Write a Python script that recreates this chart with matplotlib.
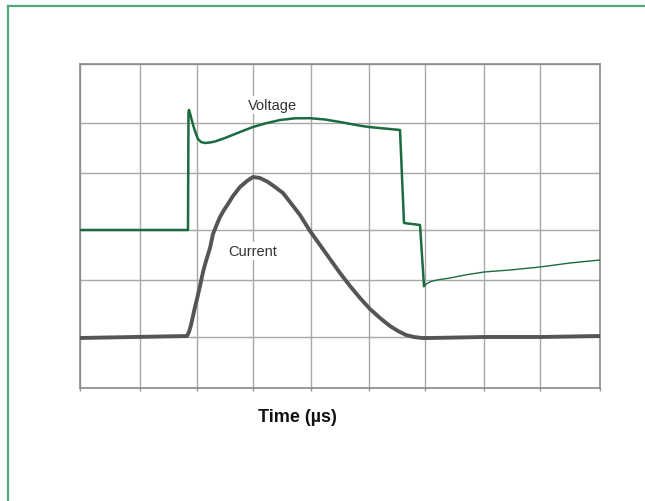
import matplotlib
matplotlib.use("Agg")
import matplotlib.pyplot as plt
from matplotlib.lines import Line2D

# trace values (x, y in screen divisions scaled to pixels)
grid_x = [0, 60, 117, 173, 231, 289, 345, 404, 460, 520]
grid_y = [0, 51, 108, 158, 215, 265, 324]

volt_t = [0, 108, 108.5, 109, 110.5, 112, 114, 116, 118, 121, 125, 130, 135, 145,
          160, 173, 185, 200, 215, 230, 245, 260, 280, 289, 320, 324, 340, 344]
volt_v = [158, 158, 276, 278, 273, 267, 260, 254, 249, 246, 245, 245.5, 246.5, 250,
          256, 261, 264.5, 268, 269.7, 269.8, 268.5, 266, 262.3, 261, 258, 165, 163, 102]
volt2_t = [344, 347, 351, 357, 370, 385, 404, 430, 460, 490, 520]
volt2_v = [102, 104.5, 106.5, 108, 110, 113, 116, 118, 121, 125, 128]

curr_t = [0, 107, 109, 111, 113, 115, 117, 120, 123, 126, 130, 133, 137, 140, 144,
          148, 153, 160, 167, 173, 180, 188, 195, 203, 210, 220, 230, 240, 250, 260,
          270, 280, 290, 300, 310, 318, 326, 334, 342, 350, 404, 460, 520]
curr_i = [50, 52, 56, 63, 72, 81, 89, 102, 116, 127, 140, 154, 164, 171, 178,
          184, 192, 201, 207, 211, 210, 206, 201, 195, 186, 173, 157, 143, 129, 115,
          102, 90, 79, 70, 62, 57, 53, 51, 50, 50, 51, 51, 52]

fig = plt.figure(figsize=(6.45, 5.02), dpi=100)
ax = fig.add_axes([80/645, 1 - 389/502, 520/645, 324/502])

ax.set_xlim(0, 520)
ax.set_ylim(0, 324)
ax.set_xticks(grid_x)
ax.set_yticks(grid_y)
ax.tick_params(axis="x", length=2.5, width=1, color="#999999", labelbottom=False)
ax.tick_params(axis="y", length=0, labelleft=False)
ax.grid(True, color="#a8a8a8", lw=1.0)
ax.set_axisbelow(True)
for s in ax.spines.values():
    s.set_color("#8a8a8a")
    s.set_linewidth(1.2)

ax.plot(curr_t, curr_i, color="#555555", lw=2.8, solid_capstyle="round",
        solid_joinstyle="round", zorder=3)
ax.plot(volt_t, volt_v, color="#1b6b3f", lw=1.8, solid_joinstyle="round", zorder=4)
ax.plot(volt2_t, volt2_v, color="#1b6b3f", lw=1.0, solid_joinstyle="round", zorder=4)

box = dict(facecolor="white", edgecolor="none", pad=1.5)
ax.text(192, 279, "Voltage", ha="center", va="baseline", fontsize=10.5,
        family="Liberation Sans", color="#333333", bbox=box, zorder=5)
ax.text(172.5, 133, "Current", ha="center", va="baseline", fontsize=10.5,
        family="Liberation Sans", color="#333333", bbox=box, zorder=5)

fig.text(297/645, 1 - 422.5/502, "Time (µs)", ha="center", va="baseline",
         fontsize=13, fontweight="bold", family="Liberation Sans", color="#111111")

# green frame (left and top edges)
frame = "#4fa87e"
fig.add_artist(Line2D([7.5/645, 7.5/645], [0, 1 - 6.5/502], color=frame, lw=1.6,
                      transform=fig.transFigure, solid_capstyle="projecting"))
fig.add_artist(Line2D([7.5/645, 1], [1 - 6.5/502, 1 - 6.5/502], color=frame, lw=1.6,
                      transform=fig.transFigure, solid_capstyle="projecting"))

fig.savefig("out.png", dpi=100)
